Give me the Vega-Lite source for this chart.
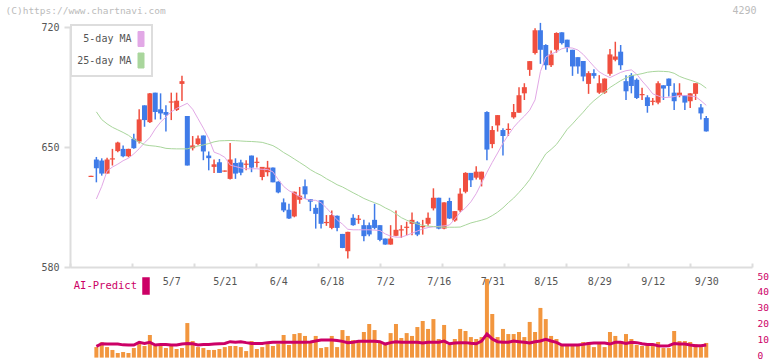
{
"$schema": "https://vega.github.io/schema/vega-lite/v6.json",
"width": 682, "height": 331,
"autosize": {"type": "none"},
"padding": {"left": 70, "top": 27, "right": 20, "bottom": 3},
"background": "#ffffff",
"config": {
 "view": {"stroke": null},
 "font": "DejaVu Sans Mono",
 "axis": {"grid": false, "labelFont": "DejaVu Sans Mono", "labelFontSize": 10, "labelColor": "#555555", "domainColor": "#dddddd", "tickColor": "#dddddd", "titleFont": "DejaVu Sans Mono", "titleFontWeight": "normal"},
 "legend": {"labelFont": "DejaVu Sans Mono", "labelFontSize": 10}
},
"datasets": {"d": [
{"k":0,"o":632.5,"h":633.2,"l":632.5,"c":633.2},
{"k":1,"o":642.7,"h":644.2,"l":629.4,"c":637.6,"v":6.6,"ai":7.1,"m5":619.7,"m25":670.5},
{"k":2,"o":642.1,"h":643.4,"l":633.3,"c":634.5,"v":9.6,"ai":8.7,"m5":627,"m25":666},
{"k":3,"o":634.5,"h":643.8,"l":634.5,"c":642.7,"v":6.6,"ai":8.5,"m5":636,"m25":663.5},
{"k":4,"o":642.7,"h":648.9,"l":639.2,"c":643.4,"v":4.8,"ai":8.5,"m5":638.3,"m25":661.5},
{"k":5,"o":647.6,"h":653,"l":647,"c":652.6,"v":2.9,"ai":8.5,"m5":640,"m25":660},
{"k":6,"o":648.9,"h":650.9,"l":644,"c":644.6,"v":3.5,"ai":8.0,"m5":642,"m25":658.5},
{"k":7,"o":644.6,"h":649,"l":644,"c":648.9,"v":2.9,"ai":7.9,"m5":643.5,"m25":656.8},
{"k":8,"o":654.8,"h":657.7,"l":649,"c":649.3,"v":6.0,"ai":7.9,"m5":646,"m25":654.5},
{"k":9,"o":653.2,"h":672,"l":652,"c":666.1,"v":8.5,"ai":9.6,"m5":649,"m25":653},
{"k":10,"o":674.3,"h":674.3,"l":661.8,"c":665.7,"v":7.3,"ai":8.9,"m5":652.5,"m25":651.3},
{"k":11,"o":664.5,"h":681.5,"l":664,"c":681.3,"v":14.2,"ai":9.6,"m5":655.5,"m25":650.8},
{"k":12,"o":681.7,"h":681.7,"l":666.1,"c":670.4,"v":7.3,"ai":7.9,"m5":660.5,"m25":650.5},
{"k":13,"o":672,"h":681.3,"l":666.1,"c":669.6,"v":8.5,"ai":8.3,"m5":664.5,"m25":650},
{"k":14,"o":670.4,"h":674.3,"l":659.1,"c":668.8,"v":6.0,"ai":8.3,"m5":667.5,"m25":649.2},
{"k":15,"o":675.9,"h":681.7,"l":665.7,"c":676.6,"v":7.3,"ai":7.9,"m5":670.5,"m25":649},
{"k":16,"o":671.6,"h":681.7,"l":671,"c":677,"v":5.4,"ai":7.9,"m5":672.5,"m25":648.9},
{"k":17,"o":686.8,"h":691.5,"l":676.8,"c":688.4,"v":6.0,"ai":8.5,"m5":674,"m25":648.9},
{"k":18,"o":668.1,"h":668.1,"l":639.2,"c":639.2,"v":21.7,"ai":8.9,"m5":675.5,"m25":648.9},
{"k":19,"o":649.3,"h":656.4,"l":648,"c":650.9,"v":10.4,"ai":8.7,"m5":672,"m25":649.8},
{"k":20,"o":651.7,"h":656.7,"l":651,"c":655,"v":6.6,"ai":7.9,"m5":666.5,"m25":650.6},
{"k":21,"o":656.7,"h":656.7,"l":642.3,"c":647.4,"v":6.0,"ai":8.3,"m5":661,"m25":651.2},
{"k":22,"o":645,"h":647.4,"l":636.4,"c":643.5,"v":4.8,"ai":8.3,"m5":655,"m25":652},
{"k":23,"o":638.4,"h":642.7,"l":634.9,"c":639.9,"v":4.8,"ai":8.5,"m5":647,"m25":653},
{"k":24,"o":641.1,"h":643,"l":634.9,"c":634.9,"v":5.4,"ai":8.7,"m5":645.8,"m25":653.6},
{"k":25,"o":635.6,"h":636.3,"l":635.6,"c":636.3,"v":6.6,"ai":8.9,"m5":644,"m25":653.7},
{"k":26,"o":631.4,"h":652.4,"l":631,"c":642.7,"v":7.3,"ai":10.0,"m5":639.5,"m25":653.8},
{"k":27,"o":640.7,"h":643.4,"l":631.4,"c":634.5,"v":7.3,"ai":9.6,"m5":638.6,"m25":653.7},
{"k":28,"o":641,"h":642.5,"l":633.5,"c":635,"v":6.6,"ai":10.0,"m5":637.8,"m25":653.5},
{"k":29,"o":639.6,"h":642.3,"l":636.4,"c":640.3,"v":4.1,"ai":9.4,"m5":637.3,"m25":653.3},
{"k":30,"o":645,"h":645,"l":635.3,"c":638,"v":10.4,"ai":8.9,"m5":637.3,"m25":653.2},
{"k":31,"o":640.7,"h":643.9,"l":638,"c":641.4,"v":5.4,"ai":8.9,"m5":637.3,"m25":653},
{"k":32,"o":632.5,"h":638.4,"l":630.6,"c":638.4,"v":6.6,"ai":8.9,"m5":637,"m25":652.7},
{"k":33,"o":635.3,"h":641.9,"l":632.9,"c":638,"v":8.5,"ai":9.4,"m5":636.9,"m25":651.8},
{"k":34,"o":638,"h":638,"l":629.4,"c":629.4,"v":7.3,"ai":9.6,"m5":635.5,"m25":650.8},
{"k":35,"o":629.8,"h":630,"l":623,"c":623.5,"v":8.5,"ai":9.6,"m5":631,"m25":649},
{"k":36,"o":617.7,"h":620,"l":612,"c":613,"v":14.2,"ai":9.6,"m5":627,"m25":646.8},
{"k":37,"o":613.4,"h":616.9,"l":608,"c":608.3,"v":7.9,"ai":9.6,"m5":624.5,"m25":645},
{"k":38,"o":609.5,"h":624,"l":609,"c":623.9,"v":14.8,"ai":9.6,"m5":623,"m25":643},
{"k":39,"o":619.2,"h":626.7,"l":616.9,"c":621.6,"v":15.4,"ai":9.6,"m5":621,"m25":641},
{"k":40,"o":627.1,"h":631,"l":619.6,"c":622.4,"v":13.6,"ai":9.6,"m5":619.8,"m25":639},
{"k":41,"o":619.6,"h":619.6,"l":612.6,"c":618.1,"v":9.8,"ai":9.8,"m5":619,"m25":636.8},
{"k":42,"o":614.5,"h":616.5,"l":602.4,"c":611,"v":13.6,"ai":10.4,"m5":618.9,"m25":635},
{"k":43,"o":618.9,"h":619,"l":602.4,"c":605.2,"v":6.0,"ai":11.0,"m5":617.5,"m25":633.5},
{"k":44,"o":605.6,"h":610.3,"l":604,"c":606.3,"v":6.6,"ai":11.0,"m5":614.5,"m25":631.5},
{"k":45,"o":602.8,"h":613,"l":602,"c":610.3,"v":13.6,"ai":11.0,"m5":611,"m25":629.8},
{"k":46,"o":609.9,"h":610,"l":600.9,"c":602.8,"v":6.6,"ai":10.8,"m5":607.5,"m25":628},
{"k":47,"o":599.3,"h":599.3,"l":591,"c":591.1,"v":17.3,"ai":10.2,"m5":605,"m25":626.7},
{"k":48,"o":589.2,"h":600.5,"l":584.9,"c":600.5,"v":13.6,"ai":9.4,"m5":602,"m25":625},
{"k":49,"o":608.7,"h":610.7,"l":604,"c":604.4,"v":11.0,"ai":9.6,"m5":601.7,"m25":623.3},
{"k":50,"o":607.5,"h":610.3,"l":605.2,"c":608.2,"v":10.4,"ai":10.2,"m5":601.7,"m25":621.7},
{"k":51,"o":604.4,"h":607.5,"l":595,"c":598,"v":16.1,"ai":10.2,"m5":601.7,"m25":620},
{"k":52,"o":604.4,"h":606,"l":598,"c":599,"v":21.1,"ai":10.2,"m5":601.7,"m25":618.7},
{"k":53,"o":607.5,"h":616.9,"l":602,"c":602.8,"v":17.3,"ai":10.2,"m5":601.5,"m25":617.5},
{"k":54,"o":604.4,"h":604.4,"l":595,"c":595.8,"v":10.4,"ai":10.0,"m5":601.3,"m25":616.3},
{"k":55,"o":596.6,"h":596.6,"l":593,"c":593.1,"v":7.9,"ai":8.5,"m5":599.3,"m25":614.5},
{"k":56,"o":593.1,"h":604.4,"l":593,"c":596.6,"v":15.4,"ai":9.4,"m5":598,"m25":613},
{"k":57,"o":598.2,"h":613,"l":598,"c":601.7,"v":21.1,"ai":10.0,"m5":597.4,"m25":611},
{"k":58,"o":601.3,"h":604.4,"l":597,"c":602,"v":12.3,"ai":9.6,"m5":597.4,"m25":608.8},
{"k":59,"o":602.8,"h":606.4,"l":598.5,"c":603.5,"v":15.4,"ai":9.6,"m5":598.5,"m25":607.3},
{"k":60,"o":605.2,"h":611.8,"l":598.5,"c":607.5,"v":13.6,"ai":9.6,"m5":599.7,"m25":606.2},
{"k":61,"o":606,"h":606.7,"l":598,"c":598.9,"v":19.2,"ai":9.6,"m5":601,"m25":605.1},
{"k":62,"o":603.2,"h":607.5,"l":598.9,"c":603.9,"v":23.0,"ai":9.2,"m5":602.2,"m25":604.3},
{"k":63,"o":605.2,"h":611.8,"l":604,"c":608.7,"v":18.0,"ai":9.6,"m5":603,"m25":603.8},
{"k":64,"o":614.2,"h":625.9,"l":613,"c":620.4,"v":24.2,"ai":9.6,"m5":603.4,"m25":603.6},
{"k":65,"o":620.4,"h":620.4,"l":602,"c":602.4,"v":11.7,"ai":9.6,"m5":603.7,"m25":603.4},
{"k":66,"o":602.4,"h":617.7,"l":602,"c":617.7,"v":20.5,"ai":10.4,"m5":604,"m25":603.2},
{"k":67,"o":618.5,"h":620.4,"l":608,"c":608.3,"v":7.9,"ai":8.7,"m5":604.5,"m25":603.2},
{"k":68,"o":607.1,"h":612.6,"l":606.4,"c":612.6,"v":11.7,"ai":9.2,"m5":608,"m25":603.2},
{"k":69,"o":613,"h":625.9,"l":612,"c":622.8,"v":18.0,"ai":9.4,"m5":611.8,"m25":603.3},
{"k":70,"o":623.9,"h":635.3,"l":623,"c":634.9,"v":16.7,"ai":9.4,"m5":614.5,"m25":604.5},
{"k":71,"o":634.9,"h":634.9,"l":626.7,"c":630.6,"v":12.9,"ai":9.0,"m5":618,"m25":605.7},
{"k":72,"o":632.1,"h":638.8,"l":631,"c":635.6,"v":11.7,"ai":8.7,"m5":622.8,"m25":606.5},
{"k":73,"o":631,"h":635.6,"l":627,"c":635.6,"v":12.9,"ai":10.4,"m5":629,"m25":607.3},
{"k":74,"o":670.4,"h":670.8,"l":642.3,"c":648.5,"v":49.4,"ai":14.8,"m5":635.2,"m25":608.3},
{"k":75,"o":651.7,"h":662.2,"l":649.3,"c":659.9,"v":27.4,"ai":11.7,"m5":641,"m25":610},
{"k":76,"o":662.6,"h":668.6,"l":659,"c":668.6,"v":12.9,"ai":10.0,"m5":646.5,"m25":612},
{"k":77,"o":659.9,"h":661,"l":645,"c":656.4,"v":18.0,"ai":9.6,"m5":652.2,"m25":614.5},
{"k":78,"o":659.9,"h":663.8,"l":656.4,"c":660.6,"v":14.8,"ai":9.6,"m5":657,"m25":617.5},
{"k":79,"o":667.3,"h":675.1,"l":666.5,"c":670.4,"v":14.8,"ai":10.4,"m5":661.5,"m25":620.2},
{"k":80,"o":670,"h":684.9,"l":670,"c":680.2,"v":16.1,"ai":10.0,"m5":665,"m25":623.5},
{"k":81,"o":681.3,"h":687.2,"l":677.4,"c":684.9,"v":12.9,"ai":9.6,"m5":668,"m25":627},
{"k":82,"o":695,"h":700.1,"l":691.5,"c":700.1,"v":22.4,"ai":9.2,"m5":671.5,"m25":631},
{"k":83,"o":704.8,"h":719.2,"l":704,"c":718.1,"v":16.1,"ai":10.0,"m5":677.5,"m25":636},
{"k":84,"o":718.1,"h":722.4,"l":698.5,"c":706.7,"v":31.2,"ai":10.4,"m5":694,"m25":641},
{"k":85,"o":709.5,"h":710,"l":695,"c":697.7,"v":24.2,"ai":11.5,"m5":702.5,"m25":646},
{"k":86,"o":697.7,"h":706.3,"l":696.6,"c":704,"v":13.6,"ai":10.4,"m5":704.3,"m25":648.6},
{"k":87,"o":706.7,"h":716.9,"l":705,"c":716.5,"v":11.7,"ai":9.6,"m5":705.5,"m25":651.5},
{"k":88,"o":716.9,"h":716.9,"l":709.8,"c":710.6,"v":7.9,"ai":7.9,"m5":707.3,"m25":655.8},
{"k":89,"o":712.6,"h":712.6,"l":705.2,"c":707.9,"v":7.9,"ai":7.9,"m5":708,"m25":660.3},
{"k":90,"o":706.7,"h":706.7,"l":691.5,"c":697,"v":7.9,"ai":7.9,"m5":707.7,"m25":663.5},
{"k":91,"o":702.4,"h":702.4,"l":692.7,"c":697,"v":7.9,"ai":7.9,"m5":706.6,"m25":667},
{"k":92,"o":700.1,"h":700.1,"l":688.4,"c":691.1,"v":9.8,"ai":8.3,"m5":704,"m25":670.3},
{"k":93,"o":686.8,"h":694.2,"l":681,"c":693.1,"v":9.8,"ai":8.9,"m5":700.5,"m25":674},
{"k":94,"o":693.1,"h":695.4,"l":690,"c":691.5,"v":6.6,"ai":9.2,"m5":697,"m25":677},
{"k":95,"o":681.7,"h":691.9,"l":681,"c":687.2,"v":9.2,"ai":9.2,"m5":693.8,"m25":679.5},
{"k":96,"o":681.7,"h":690,"l":681,"c":689.9,"v":6.6,"ai":9.2,"m5":692,"m25":682},
{"k":97,"o":692.7,"h":707.1,"l":691.5,"c":704,"v":16.1,"ai":8.5,"m5":690.5,"m25":684.7},
{"k":98,"o":700.9,"h":711.4,"l":700,"c":702.8,"v":13.6,"ai":9.6,"m5":692,"m25":686.7},
{"k":99,"o":705.6,"h":709.5,"l":695,"c":697.7,"v":10.4,"ai":9.6,"m5":693.5,"m25":688.7},
{"k":100,"o":688.4,"h":691.9,"l":677.4,"c":682.5,"v":14.8,"ai":8.9,"m5":694.5,"m25":690.3},
{"k":101,"o":691.9,"h":693.1,"l":681.3,"c":685.6,"v":11.7,"ai":9.6,"m5":695,"m25":691.6},
{"k":102,"o":689.2,"h":690,"l":678,"c":678.6,"v":7.9,"ai":9.4,"m5":692.5,"m25":692.2},
{"k":103,"o":680.2,"h":684.5,"l":677.4,"c":680.9,"v":7.3,"ai":8.7,"m5":688.5,"m25":692.8},
{"k":104,"o":679,"h":680.2,"l":670,"c":673.9,"v":7.9,"ai":8.3,"m5":685,"m25":693.6},
{"k":105,"o":676.3,"h":678.6,"l":674.3,"c":677,"v":7.9,"ai":8.3,"m5":681,"m25":694},
{"k":106,"o":675.9,"h":688.4,"l":675,"c":687.2,"v":9.8,"ai":7.5,"m5":679.8,"m25":694.2},
{"k":107,"o":686,"h":686,"l":677.4,"c":684.1,"v":6.0,"ai":7.3,"m5":678.8,"m25":694.1},
{"k":108,"o":689.9,"h":689.9,"l":679.4,"c":685.6,"v":6.0,"ai":7.5,"m5":679,"m25":693.9},
{"k":109,"o":681.7,"h":687.2,"l":671.6,"c":676.7,"v":16.7,"ai":8.9,"m5":679.4,"m25":693},
{"k":110,"o":679.8,"h":687.2,"l":679,"c":681.7,"v":10.4,"ai":8.5,"m5":680.2,"m25":691.2},
{"k":111,"o":680.2,"h":680.2,"l":671.6,"c":675.9,"v":10.4,"ai":8.5,"m5":680,"m25":690},
{"k":112,"o":676.7,"h":681.3,"l":672.7,"c":681.3,"v":9.8,"ai":7.9,"m5":679.7,"m25":689},
{"k":113,"o":681,"h":687.2,"l":677.4,"c":687.2,"v":8.5,"ai":7.5,"m5":679.4,"m25":688},
{"k":114,"o":673.1,"h":675.1,"l":666.1,"c":669.6,"v":6.6,"ai":7.5,"m5":677,"m25":686.6},
{"k":115,"o":666.9,"h":668.1,"l":659,"c":659.1,"v":9.2,"ai":7.9,"m5":674.3,"m25":684.3}
]},
"data": {"name": "d"},
"layer": [
 {
  "encoding": {"x": {"field": "k", "type": "quantitative",
    "scale": {"domain": [-3.93, 123.55], "nice": false, "zero": false, "padding": 0},
    "axis": {"orient": "bottom", "offset": -91, "title": null, "values": [15,25,35,45,55,65,75,85,95,105,115],
      "labelExpr": "['5/7','5/21','6/4','6/18','7/2','7/16','7/31','8/15','8/29','9/12','9/30'][round((datum.value-15)/10)]",
      "ticks": false, "domainWidth": 2, "labelPadding": 9, "labelFlush": false, "labelOverlap": false, "labelBound": false}}},
  "layer": [
   {"mark": {"type": "rule", "strokeWidth": 1.5},
    "encoding": {
     "y": {"field": "l", "type": "quantitative",
       "scale": {"domain": [580, 720], "range": [240, 0], "nice": false, "zero": false},
       "axis": {"orient": "left", "values": [580, 650, 720], "format": "d", "domainWidth": 2, "tickWidth": 2, "tickSize": 6, "labelPadding": 5,
         "title": "(C)https://www.chartnavi.com", "titleAngle": 0, "titleX": -65, "titleY": -17, "titleAlign": "left", "titleBaseline": "middle", "titleColor": "#bbbbbb", "titleFontSize": 9.5}},
     "y2": {"field": "h"},
     "color": {"condition": {"test": "datum.c >= datum.o", "value": "#f04f3f"}, "value": "#3f7be8"}}},
   {"mark": {"type": "bar", "width": 5},
    "encoding": {
     "y": {"field": "o", "type": "quantitative"},
     "y2": {"field": "c"},
     "color": {"condition": {"test": "datum.c >= datum.o", "value": "#f04f3f"}, "value": "#3f7be8"}}},
   {"transform": [{"fold": ["m5", "m25"], "as": ["s", "val"]}],
    "mark": {"type": "line", "strokeWidth": 1},
    "encoding": {
     "y": {"field": "val", "type": "quantitative"},
     "color": {"field": "s", "type": "nominal",
       "scale": {"domain": ["m5", "m25"], "range": ["#e2a8e6", "#a9d69c"]},
       "legend": {"orient": "none", "legendX": 1, "legendY": -2, "title": null, "direction": "vertical",
         "symbolType": "M-0.4,-1H0.4V1H-0.4Z", "symbolSize": 225, "symbolOffset": 56,
         "labelAlign": "right", "labelOffset": -17.5, "labelColor": "#555555", "labelFontSize": 10,
         "labelExpr": "datum.label == 'm5' ? '5-day MA' : '25-day MA'",
         "rowPadding": 1.5, "padding": 6, "strokeColor": "#dddddd", "fillColor": "#ffffff",
         "encode": {"symbols": {"update": {"fill": {"scale": "color", "field": "value"}, "stroke": {"value": "#666666"}, "strokeWidth": {"value": 1}, "opacity": {"value": 1}}},
                    "legend": {"update": {"strokeWidth": {"value": 2}}}}}}}}
  ]
 },
 {
  "encoding": {"x": {"field": "k", "type": "quantitative",
    "scale": {"domain": [-3.93, 123.55], "nice": false, "zero": false, "padding": 0},
    "axis": {"orient": "bottom", "offset": -95, "title": null, "values": [-3.93, 7.66, 19.25, 30.84, 42.43, 54.02, 65.61, 77.2, 88.79, 100.38, 111.97, 123.55],
      "labels": false, "domain": false, "tickSize": 4, "tickWidth": 2}}},
  "layer": [
   {"mark": {"type": "bar", "width": 4, "color": "#f2963e"},
    "encoding": {
     "y": {"field": "v", "type": "quantitative",
       "scale": {"domain": [0, 50], "range": [330.6, 251], "nice": false},
       "axis": {"orient": "right", "values": [0, 10, 20, 30, 40, 50], "domain": false, "ticks": false, "labelPadding": 5, "labelColor": "#cc0066", "labelFontSize": 9.5, "labelOffset": -2,
         "title": "4290", "titleAngle": 0, "titleX": -8, "titleY": -17, "titleAlign": "center", "titleBaseline": "middle", "titleColor": "#bbbbbb", "titleFontSize": 10}}}},
   {"transform": [{"fold": ["ai"], "as": ["s2", "aiv"]}],
    "mark": {"type": "line", "strokeWidth": 3},
    "encoding": {
     "y": {"field": "aiv", "type": "quantitative"},
     "stroke": {"field": "s2", "type": "nominal",
       "scale": {"domain": ["ai"], "range": ["#cc0066"]},
       "legend": {"orient": "none", "legendX": 5, "legendY": 250, "title": null,
         "symbolType": "M-0.375,-1H0.375V1H-0.375Z", "symbolSize": 256, "symbolOffset": 62,
         "labelAlign": "right", "labelOffset": -18, "labelColor": "#cc0066", "labelFontSize": 10.5,
         "labelExpr": "'AI-Predict'", "padding": 0,
         "encode": {"symbols": {"update": {"fill": {"value": "#cc0066"}, "stroke": {"value": "transparent"}, "opacity": {"value": 1}}}}}}}}
  ]
 }
],
"resolve": {"scale": {"y": "independent", "x": "independent"}, "axis": {"y": "independent", "x": "independent"}}
}
